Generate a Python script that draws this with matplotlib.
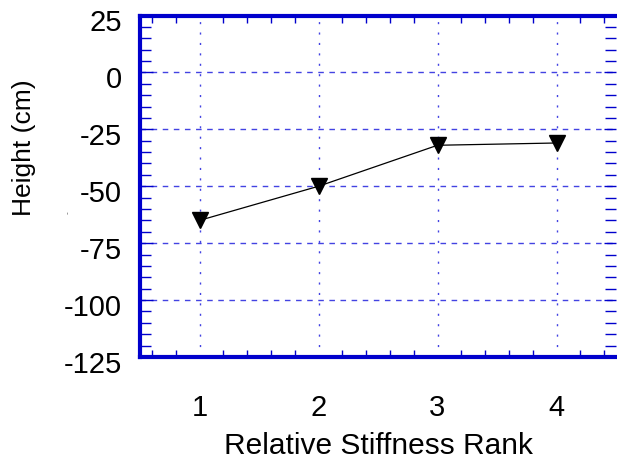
import matplotlib
matplotlib.use("Agg")
import matplotlib.pyplot as plt
import matplotlib.transforms as mtransforms
from matplotlib.ticker import MultipleLocator, FixedLocator

# stiffness rank vs. measured height
rank = [1, 2, 3, 4]
height_cm = [-65, -50, -32, -31]
rank_ticks = [1, 2, 3, 4]
height_ticks = [25, 0, -25, -50, -75, -100, -125]

BLUE = "#0000cc"
GRID = "#2222dd"

plt.rcParams["font.family"] = ["Liberation Sans", "DejaVu Sans"]
plt.rcParams["axes.unicode_minus"] = False

fig = plt.figure(figsize=(6.17, 4.60), dpi=100)
ax = fig.add_axes([140 / 617, 1 - 358 / 460, 476 / 617, (358 - 16.5) / 460])

ax.set_xlim(0.5, 4.5)
ax.set_ylim(-125, 25)

# grid: dashed horizontals, dotted verticals
for y in height_ticks[1:-1]:
    ax.axhline(y, color=GRID, lw=1.0, ls=(0, (4, 4)), alpha=0.85, zorder=1)
for x in rank_ticks:
    ax.axvline(x, color=GRID, lw=1.0, ls=(0, (1.5, 6)), alpha=0.85, zorder=1)

ax.plot(rank, height_cm, color="black", lw=0.9, marker="v", ms=11,
        mfc="black", mec="black", zorder=3)

ax.xaxis.set_major_locator(FixedLocator(rank_ticks))
ax.xaxis.set_minor_locator(MultipleLocator(0.2))
ax.yaxis.set_major_locator(FixedLocator(height_ticks))
ax.yaxis.set_minor_locator(MultipleLocator(5))

ax.tick_params(which="both", direction="in", top=True, right=True,
               color=BLUE, labelsize=21, labelcolor="black")
ax.tick_params(axis="x", which="major", length=0, pad=26)
ax.tick_params(axis="x", which="minor", length=5, width=1)
ax.tick_params(axis="y", which="major", length=9, width=1, pad=13)
ax.tick_params(axis="y", which="minor", length=8, width=1)

# y tick labels sit a little below their ticks
shift = mtransforms.ScaledTranslation(0, -4 / 100, fig.dpi_scale_trans)
for lbl in ax.get_yticklabels():
    lbl.set_transform(lbl.get_transform() + shift)

for side in ("left", "bottom", "top"):
    ax.spines[side].set_color(BLUE)
    ax.spines[side].set_linewidth(3)
ax.spines["right"].set_visible(False)

ax.set_xlabel("Relative Stiffness Rank", fontsize=21.5, labelpad=7)
ax.set_ylabel("Height (cm)", fontsize=19)
ax.yaxis.set_label_coords(-0.218, 0.615)
fig.text(68 / 617, 1 - 213 / 460, "-", rotation=90, fontsize=6,
         color="#555555", ha="center", va="center")

fig.savefig("out.png", dpi=100)
